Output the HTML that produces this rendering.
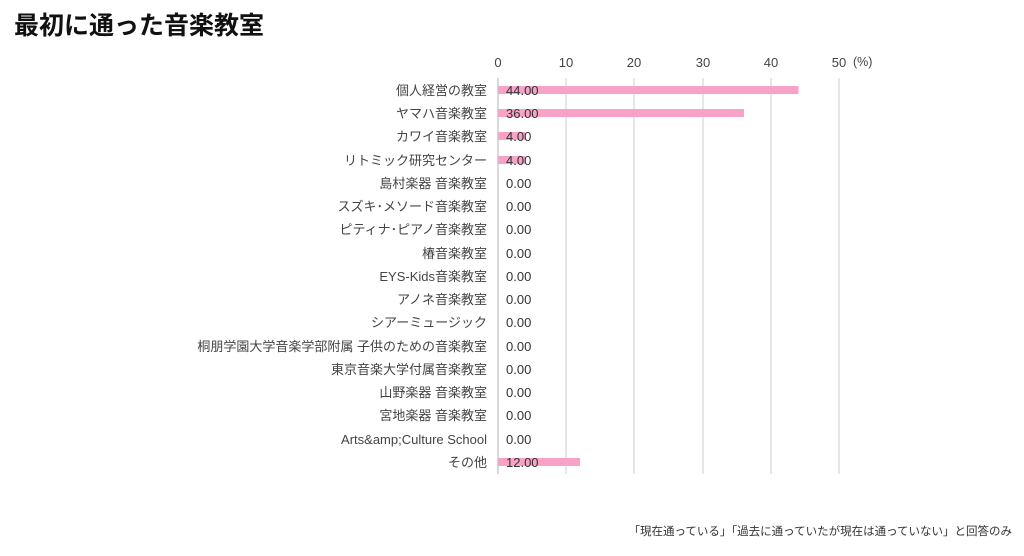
<!DOCTYPE html>
<html><head><meta charset="utf-8"><style>
body{margin:0;background:#fff;width:1024px;height:551px;overflow:hidden;font-family:"Liberation Sans","Noto Sans CJK JP",sans-serif;}
</style></head><body>
<svg width="1024" height="551" xmlns="http://www.w3.org/2000/svg" font-family="Liberation Sans, Noto Sans CJK JP, sans-serif">
<text x="14" y="34" font-size="25" font-weight="bold" fill="#111">最初に通った音楽教室</text>
<g stroke="#ddd" stroke-width="1.5">
<line x1="566" y1="78" x2="566" y2="474"/><line x1="634" y1="78" x2="634" y2="474"/><line x1="703" y1="78" x2="703" y2="474"/><line x1="771" y1="78" x2="771" y2="474"/><line x1="839" y1="78" x2="839" y2="474"/>
</g>
<line x1="498" y1="78" x2="498" y2="474" stroke="#ccc" stroke-width="1.5"/>
<g font-size="13" fill="#444" text-anchor="middle">
<text x="498" y="67">0</text><text x="566" y="67">10</text><text x="634" y="67">20</text><text x="703" y="67">30</text><text x="771" y="67">40</text><text x="839" y="67">50</text>
</g>
<text x="853" y="66" font-size="12.5" fill="#444">(%)</text>
<g fill="#f7a3c8">
<rect x="498" y="86" width="300.5" height="8"/>
<rect x="498" y="109" width="246" height="8"/>
<rect x="498" y="132" width="27" height="8"/>
<rect x="498" y="156" width="27" height="8"/>
<rect x="498" y="458" width="82" height="8"/>
</g>
<g font-size="13" fill="#444" text-anchor="end">
<text x="487" y="95">個人経営の教室</text>
<text x="487" y="118">ヤマハ音楽教室</text>
<text x="487" y="141">カワイ音楽教室</text>
<text x="487" y="165">リトミック研究センター</text>
<text x="487" y="188">島村楽器 音楽教室</text>
<text x="487" y="211">スズキ･メソード音楽教室</text>
<text x="487" y="234">ピティナ･ピアノ音楽教室</text>
<text x="487" y="258">椿音楽教室</text>
<text x="487" y="281">EYS-Kids音楽教室</text>
<text x="487" y="304">アノネ音楽教室</text>
<text x="487" y="327">シアーミュージック</text>
<text x="487" y="351">桐朋学園大学音楽学部附属 子供のための音楽教室</text>
<text x="487" y="374">東京音楽大学付属音楽教室</text>
<text x="487" y="397">山野楽器 音楽教室</text>
<text x="487" y="420">宮地楽器 音楽教室</text>
<text x="487" y="444">Arts&amp;amp;Culture School</text>
<text x="487" y="467">その他</text>
</g>
<g font-size="13" fill="#333">
<text x="506" y="95">44.00</text><text x="506" y="118">36.00</text><text x="506" y="141">4.00</text><text x="506" y="165">4.00</text>
<text x="506" y="188">0.00</text><text x="506" y="211">0.00</text><text x="506" y="234">0.00</text><text x="506" y="258">0.00</text><text x="506" y="281">0.00</text><text x="506" y="304">0.00</text><text x="506" y="327">0.00</text><text x="506" y="351">0.00</text><text x="506" y="374">0.00</text><text x="506" y="397">0.00</text><text x="506" y="420">0.00</text><text x="506" y="444">0.00</text><text x="506" y="467">12.00</text>
</g>
<text x="1012" y="535" font-size="11.5" fill="#333" text-anchor="end">「現在通っている」「過去に通っていたが現在は通っていない」と回答のみ</text>
</svg>
</body></html>
